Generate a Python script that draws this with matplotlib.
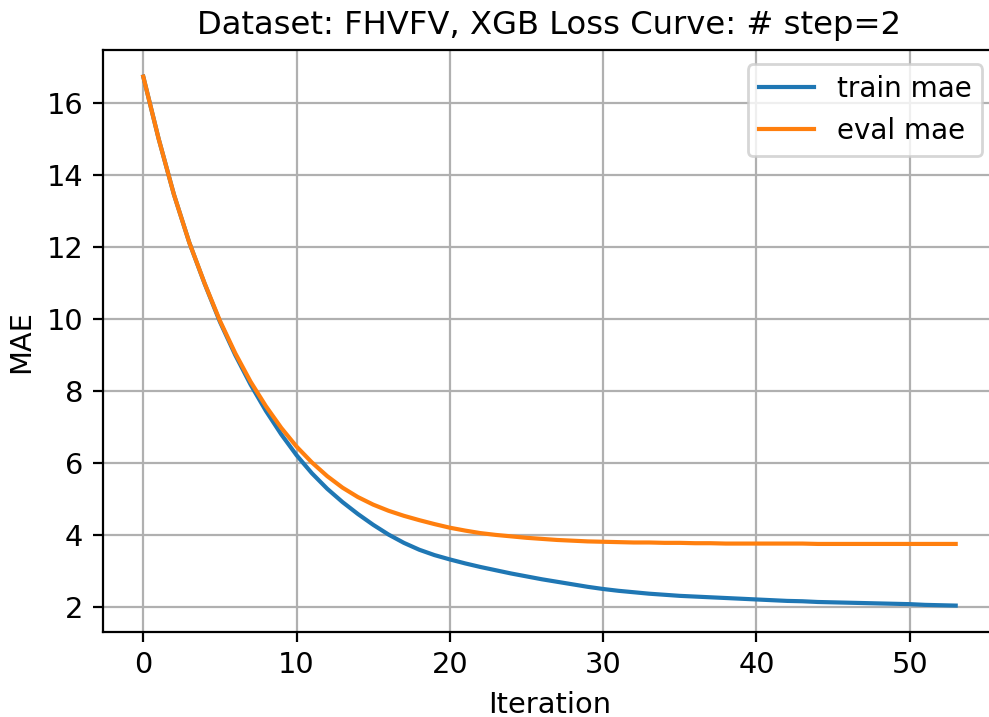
import matplotlib
matplotlib.use('Agg')
import matplotlib.pyplot as plt

# MAE per boosting round
train_mae = [16.72, 15.0, 13.45, 12.12, 10.98, 9.92, 9.0, 8.18, 7.45, 6.8,
             6.22, 5.72, 5.29, 4.92, 4.59, 4.29, 4.02, 3.79, 3.6, 3.45,
             3.33, 3.22, 3.12, 3.03, 2.94, 2.86, 2.78, 2.71, 2.64, 2.57,
             2.51, 2.46, 2.42, 2.38, 2.35, 2.32, 2.3, 2.28, 2.26, 2.24,
             2.22, 2.2, 2.18, 2.17, 2.15, 2.14, 2.13, 2.12, 2.11, 2.1,
             2.09, 2.07, 2.06, 2.05]
eval_mae = [16.72, 15.0, 13.45, 12.12, 10.99, 9.95, 9.05, 8.26, 7.58, 6.98,
            6.46, 6.02, 5.64, 5.32, 5.06, 4.85, 4.68, 4.54, 4.42, 4.31,
            4.21, 4.13, 4.06, 4.01, 3.97, 3.93, 3.9, 3.87, 3.85, 3.83,
            3.82, 3.81, 3.8, 3.8, 3.79, 3.79, 3.78, 3.78, 3.77, 3.77,
            3.77, 3.77, 3.77, 3.77, 3.76, 3.76, 3.76, 3.76, 3.76, 3.76,
            3.76, 3.76, 3.76, 3.76]
iterations = list(range(len(train_mae)))

dpi = 200
fig = plt.figure(figsize=(989 / dpi, 717 / dpi), dpi=dpi)
# the right spine sits just past the image edge in the reference
ax = fig.add_axes([0.1038, 0.1185, 0.9036, 0.8115])
ax.plot(iterations, train_mae, label='train mae')
ax.plot(iterations, eval_mae, label='eval mae')
ax.grid(True)
ax.tick_params(labelsize=10.4)
ax.set_title('Dataset: FHVFV, XGB Loss Curve: # step=2', fontsize=11.6)
ax.set_xlabel('Iteration', fontsize=10.4)
ax.set_ylabel('MAE', fontsize=10.4)
ax.legend(loc='upper right', fontsize=10)
fig.savefig('out.png', dpi=dpi)
